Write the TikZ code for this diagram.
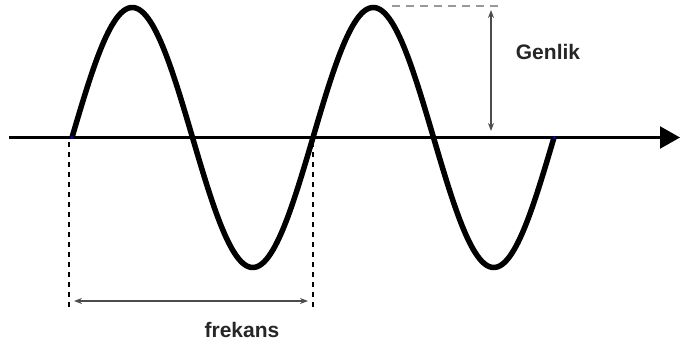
\documentclass[tikz,border=0pt]{standalone}
\usepackage{fontspec}
\setmainfont{Liberation Sans}
\usetikzlibrary{arrows.meta}
\begin{document}
\begin{tikzpicture}[x=1pt,y=-1pt,
  axisline/.style={line width=2.2pt,-{Triangle[length=20pt,width=22pt]}},
  wave/.style={line width=5.5pt,line join=round},
  guide/.style={line width=1.6pt,dash pattern=on 5pt off 5pt},
  topguide/.style={line width=2.4pt,gray!80,dash pattern=on 8pt off 6pt},
  measure/.style={line width=1.9pt,black!70,{Stealth[length=8pt,width=6pt]}-{Stealth[length=8pt,width=6pt]}},
  lbl/.style={font=\fontsize{21}{23}\selectfont\bfseries,text=black!85},
  dot/.style={fill=blue,inner sep=0pt,minimum size=3pt,circle}]
\useasboundingbox (0,0) rectangle (681,348);
\coordinate (axs) at (9,137.5);
\coordinate (axe) at (680,137.5);
\coordinate (ws) at (72,137.5);
\coordinate (we) at (554,137.5);
\coordinate (pk) at (373,6);
\coordinate (topend) at (503,6);
\coordinate (ampt) at (491,10);
\coordinate (ampb) at (491,131);
\coordinate (lb) at (69,307);
\coordinate (lt) at (69,142);
\coordinate (rt) at (313,142);
\coordinate (rb) at (313,310);
\coordinate (fl) at (74,301);
\coordinate (fr) at (308,301);
% axis
\draw[axisline] (axs) -- (axe);
% wave
\draw[wave] plot[domain=0:2,samples=241,smooth] ({72+241*\x},{137.5-130*sin(360*\x)});
\node[dot] (d1) at (ws) {};
\node[dot] (d2) at (we) {};
% amplitude
\draw[topguide] ([xshift=19pt]pk) -- (topend);
\draw[measure] (ampt) -- (ampb);
\node[lbl] (genlik) at (548,52) {Genlik};
% frequency
\draw[guide] (lt) -- (lb);
\draw[guide] (rt) -- (rb);
\draw[measure] (fl) -- (fr);
\node[lbl] (frekans) at (242,330) {frekans};
\end{tikzpicture}
\end{document}
